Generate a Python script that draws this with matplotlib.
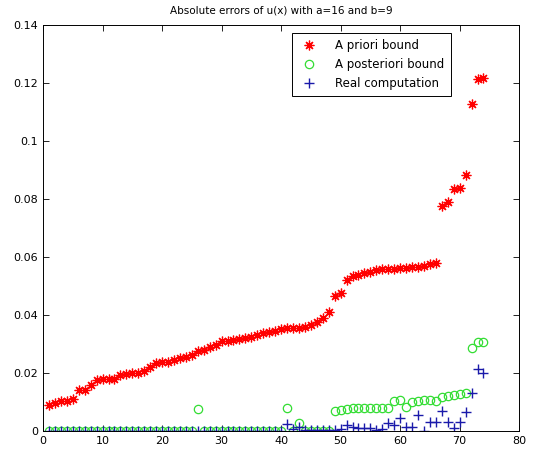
import matplotlib
matplotlib.use("Agg")
import matplotlib.pyplot as plt
import numpy as np
from matplotlib.ticker import FormatStrFormatter

# sample index 1..74
n = np.arange(1, 75)

prior = [0.0090, 0.0095, 0.0103, 0.0104, 0.0110, 0.0140, 0.0142, 0.0158, 0.0175, 0.0178,
         0.0180, 0.0178, 0.0193, 0.0196, 0.0198, 0.0200, 0.0205, 0.0220, 0.0233, 0.0238,
         0.0238, 0.0246, 0.0252, 0.0254, 0.0262, 0.0275, 0.0280, 0.0290, 0.0296, 0.0310,
         0.0310, 0.0314, 0.0318, 0.0322, 0.0324, 0.0330, 0.0338, 0.0340, 0.0345, 0.0352,
         0.0355, 0.0355, 0.0356, 0.0358, 0.0365, 0.0375, 0.0390, 0.0410, 0.0465, 0.0475,
         0.0520, 0.0535, 0.0538, 0.0545, 0.0548, 0.0555, 0.0558, 0.0558, 0.0560, 0.0562,
         0.0563, 0.0565, 0.0566, 0.0570, 0.0575, 0.0578, 0.0777, 0.0790, 0.0835, 0.0838,
         0.0884, 0.1126, 0.1215, 0.1217]

posterior = [0.0] * 74
for i, v in {26: 0.0075, 41: 0.0080, 43: 0.0028, 49: 0.0069, 50: 0.0072, 51: 0.0076,
             52: 0.0078, 53: 0.0078, 54: 0.0078, 55: 0.0078, 56: 0.0079, 57: 0.0080,
             58: 0.0080, 59: 0.0103, 60: 0.0105, 61: 0.0084, 62: 0.0100, 63: 0.0103,
             64: 0.0106, 65: 0.0108, 66: 0.0104, 67: 0.0116, 68: 0.0120, 69: 0.0123,
             70: 0.0127, 71: 0.0130, 72: 0.0285, 73: 0.0306, 74: 0.0306}.items():
    posterior[i - 1] = v

real = [0.0] * 74
for i, v in {41: 0.0024, 42: 0.0007, 43: 0.0015, 44: 0.0003, 45: 0.0003, 46: 0.0003,
             47: 0.0003, 48: 0.0003, 49: 0.0003, 50: 0.0005, 51: 0.0020, 52: 0.0012,
             53: 0.0010, 54: 0.0010, 55: 0.0010, 56: 0.0003, 57: 0.0006, 58: 0.0028,
             59: 0.0022, 60: 0.0045, 61: 0.0014, 62: 0.0014, 63: 0.0055, 64: 0.0001,
             65: 0.0032, 66: 0.0032, 67: 0.0067, 68: 0.0032, 69: 0.0011, 70: 0.0030,
             71: 0.0065, 72: 0.0132, 73: 0.0213, 74: 0.0200}.items():
    real[i - 1] = v

fig = plt.figure(figsize=(5.38, 4.55), dpi=100)
ax = fig.add_axes([0.080, 0.053, 0.885, 0.892])

# matlab style asterisk: + and x on top of each other
ax.plot(n, prior, marker=(8, 2, 0), linestyle='none', color='red',
        markersize=7, markeredgewidth=0.9, label='A priori bound')
ax.plot(n, posterior, 'o', markerfacecolor='none', markeredgecolor='#33dd33',
        markersize=6, markeredgewidth=0.9, label='A posteriori bound')
ax.plot(n, real, '+', color='#1a1aaa', markersize=7, markeredgewidth=1.0,
        label='Real computation')

ax.set_xlim(0, 80)
ax.set_ylim(0, 0.14)
ax.set_xticks(np.arange(0, 81, 10))
ax.set_yticks(np.arange(0, 0.141, 0.02))
ax.yaxis.set_major_formatter(FormatStrFormatter('%g'))
ax.tick_params(direction='in', top=True, right=True, labelsize=8, length=4, width=0.6)
for s in ax.spines.values():
    s.set_linewidth(0.7)

ax.set_title('Absolute errors of u(x) with a=16 and b=9', fontsize=7.5, pad=8)
leg = ax.legend(loc='upper left', bbox_to_anchor=(0.51, 0.995), fontsize=8.5,
                fancybox=False, framealpha=1, edgecolor='black',
                handletextpad=1.2, borderpad=0.5, labelspacing=0.5)
leg.get_frame().set_linewidth(0.7)

fig.savefig('out.png', dpi=100)
